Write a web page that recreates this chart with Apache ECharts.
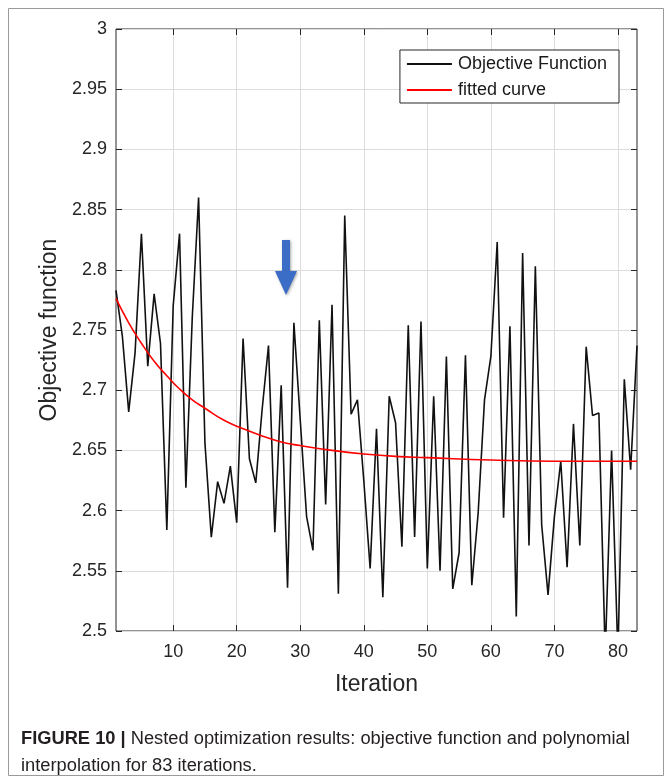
<!DOCTYPE html>
<html>
<head>
<meta charset="utf-8">
<script src="https://cdn.jsdelivr.net/npm/echarts@6/dist/echarts.min.js"></script>
<style>
  html, body { margin: 0; padding: 0; background: #fff; }
  #chart { width: 672px; height: 782px; }
</style>
</head>
<body>
<div id="chart"></div>
<script>
// objective function value per iteration (1..83)
var iterations = [];
for (var k = 1; k <= 83; k++) iterations.push(k);
var objective = [
  2.783, 2.745, 2.682, 2.731, 2.830, 2.720, 2.780, 2.739, 2.584, 2.770,
  2.830, 2.619, 2.760, 2.860, 2.656, 2.578, 2.624, 2.606, 2.637, 2.590,
  2.743, 2.643, 2.623, 2.684, 2.737, 2.582, 2.704, 2.536, 2.756, 2.675,
  2.595, 2.567, 2.758, 2.605, 2.771, 2.531, 2.845, 2.680, 2.692, 2.625,
  2.552, 2.668, 2.528, 2.695, 2.673, 2.570, 2.754, 2.578, 2.757, 2.552,
  2.695, 2.550, 2.728, 2.535, 2.565, 2.729, 2.538, 2.598, 2.692, 2.728,
  2.823, 2.594, 2.753, 2.512, 2.814, 2.571, 2.803, 2.588, 2.530, 2.595,
  2.641, 2.553, 2.672, 2.571, 2.736, 2.679, 2.681, 2.480, 2.650, 2.480,
  2.709, 2.634, 2.737
];
// fitted curve, read at a set of iterations
var fitX = [1, 3, 5, 7, 9, 11, 13, 15, 18, 21, 24, 27, 30, 35, 40, 45, 50, 60, 70, 83];
var fitY = [2.776, 2.756, 2.739, 2.724, 2.712, 2.701, 2.692, 2.685, 2.675, 2.668,
            2.662, 2.657, 2.654, 2.650, 2.647, 2.645, 2.644, 2.642, 2.641, 2.641];

var xTicks = [10, 20, 30, 40, 50, 60, 70, 80];
var xMin = 1, xMax = 83;
var yMin = 2.5, yMax = 3, yStep = 0.05;

var font = "'Liberation Sans', Arial, sans-serif";
var axisColor = '#262626';
var gridColor = '#dcdcdc';

var chart = echarts.init(document.getElementById('chart'));

function pairs(xs, ys) {
  return xs.map(function (x, i) { return [x, ys[i]]; });
}

function yLabel(v) {
  return String(parseFloat(v.toFixed(2)));
}

var tickStyle = { show: true, inside: true, length: 6, lineStyle: { color: axisColor } };

chart.setOption({
  animation: false,
  backgroundColor: '#fff',
  grid: {
    left: 116, right: 35, top: 29, bottom: 151,
    show: true, borderColor: axisColor, borderWidth: 1, backgroundColor: '#fff'
  },
  legend: {
    orient: 'vertical',
    right: 53, top: 50,
    padding: [5, 12, 4, 7],
    itemGap: 8,
    itemWidth: 45, itemHeight: 2,
    icon: 'rect',
    backgroundColor: '#fff',
    borderColor: axisColor, borderWidth: 1,
    z: 10,
    textStyle: { fontFamily: font, fontSize: 18, color: '#1a1a1a', padding: [0, 0, 0, 1] },
    data: ['Objective Function', 'fitted curve']
  },
  xAxis: [
    {
      type: 'value', min: xMin, max: xMax, position: 'bottom',
      name: 'Iteration', nameLocation: 'middle', nameGap: 42,
      nameTextStyle: { fontFamily: font, fontSize: 23, color: axisColor },
      axisLine: { show: false },
      axisTick: Object.assign({ customValues: xTicks }, tickStyle),
      axisLabel: { customValues: xTicks, fontFamily: font, fontSize: 18, color: axisColor, margin: 12 },
      splitLine: { show: false }
    },
    {
      type: 'value', min: xMin, max: xMax, position: 'top',
      axisLine: { show: false },
      axisTick: Object.assign({ customValues: xTicks }, tickStyle),
      axisLabel: { show: false },
      splitLine: { show: false }
    }
  ],
  yAxis: [
    {
      type: 'value', min: yMin, max: yMax, interval: yStep, position: 'left',
      name: 'Objective function', nameLocation: 'middle', nameGap: 55,
      nameTextStyle: { fontFamily: font, fontSize: 23, color: axisColor },
      axisLine: { show: false },
      axisTick: tickStyle,
      axisLabel: { fontFamily: font, fontSize: 18, color: axisColor, margin: 9, formatter: yLabel },
      splitLine: { show: true, lineStyle: { color: gridColor, width: 1 } }
    },
    {
      type: 'value', min: yMin, max: yMax, interval: yStep, position: 'right',
      axisLine: { show: false },
      axisTick: tickStyle,
      axisLabel: { show: false },
      splitLine: { show: false }
    }
  ],
  series: [
    {
      // vertical grid lines at the x tick values
      type: 'line', data: [], silent: true, z: 0,
      markLine: {
        z: 0, silent: true, symbol: 'none', label: { show: false },
        lineStyle: { color: gridColor, width: 1, type: 'solid' },
        data: xTicks.map(function (v) { return { xAxis: v }; })
      }
    },
    {
      name: 'Objective Function', type: 'line',
      data: pairs(iterations, objective),
      showSymbol: false, clip: true,
      itemStyle: { color: '#111' },
      lineStyle: { color: '#111', width: 1.6 },
      z: 3
    },
    {
      name: 'fitted curve', type: 'line',
      data: pairs(fitX, fitY),
      smooth: true,
      showSymbol: false,
      itemStyle: { color: '#ff0000' },
      lineStyle: { color: '#ff0000', width: 1.6 },
      z: 4
    }
  ],
  graphic: [
    { type: 'rect', shape: { x: 8.5, y: 8.5, width: 655, height: 767 },
      style: { fill: null, stroke: '#9a9a9a', lineWidth: 1 }, z: -10 },
    { type: 'polygon', z: 20,
      shape: { points: [[282, 240], [290, 240], [290, 271], [297, 271], [286, 295], [275, 271], [282, 271]] },
      style: { fill: '#3b6cc6', shadowBlur: 3, shadowColor: 'rgba(0,0,0,0.35)', shadowOffsetX: 1, shadowOffsetY: 1 } },
    { type: 'text', left: 21, top: 725, z: 20,
      style: {
        text: '{b|FIGURE 10 |} Nested optimization results: objective function and polynomial\ninterpolation for 83 iterations.',
        fontFamily: font, fontSize: 18.3, lineHeight: 27, fill: '#231f20',
        rich: { b: { fontFamily: font, fontSize: 18.3, fontWeight: 'bold', fill: '#231f20' } }
      } }
  ]
});
</script>
</body>
</html>
